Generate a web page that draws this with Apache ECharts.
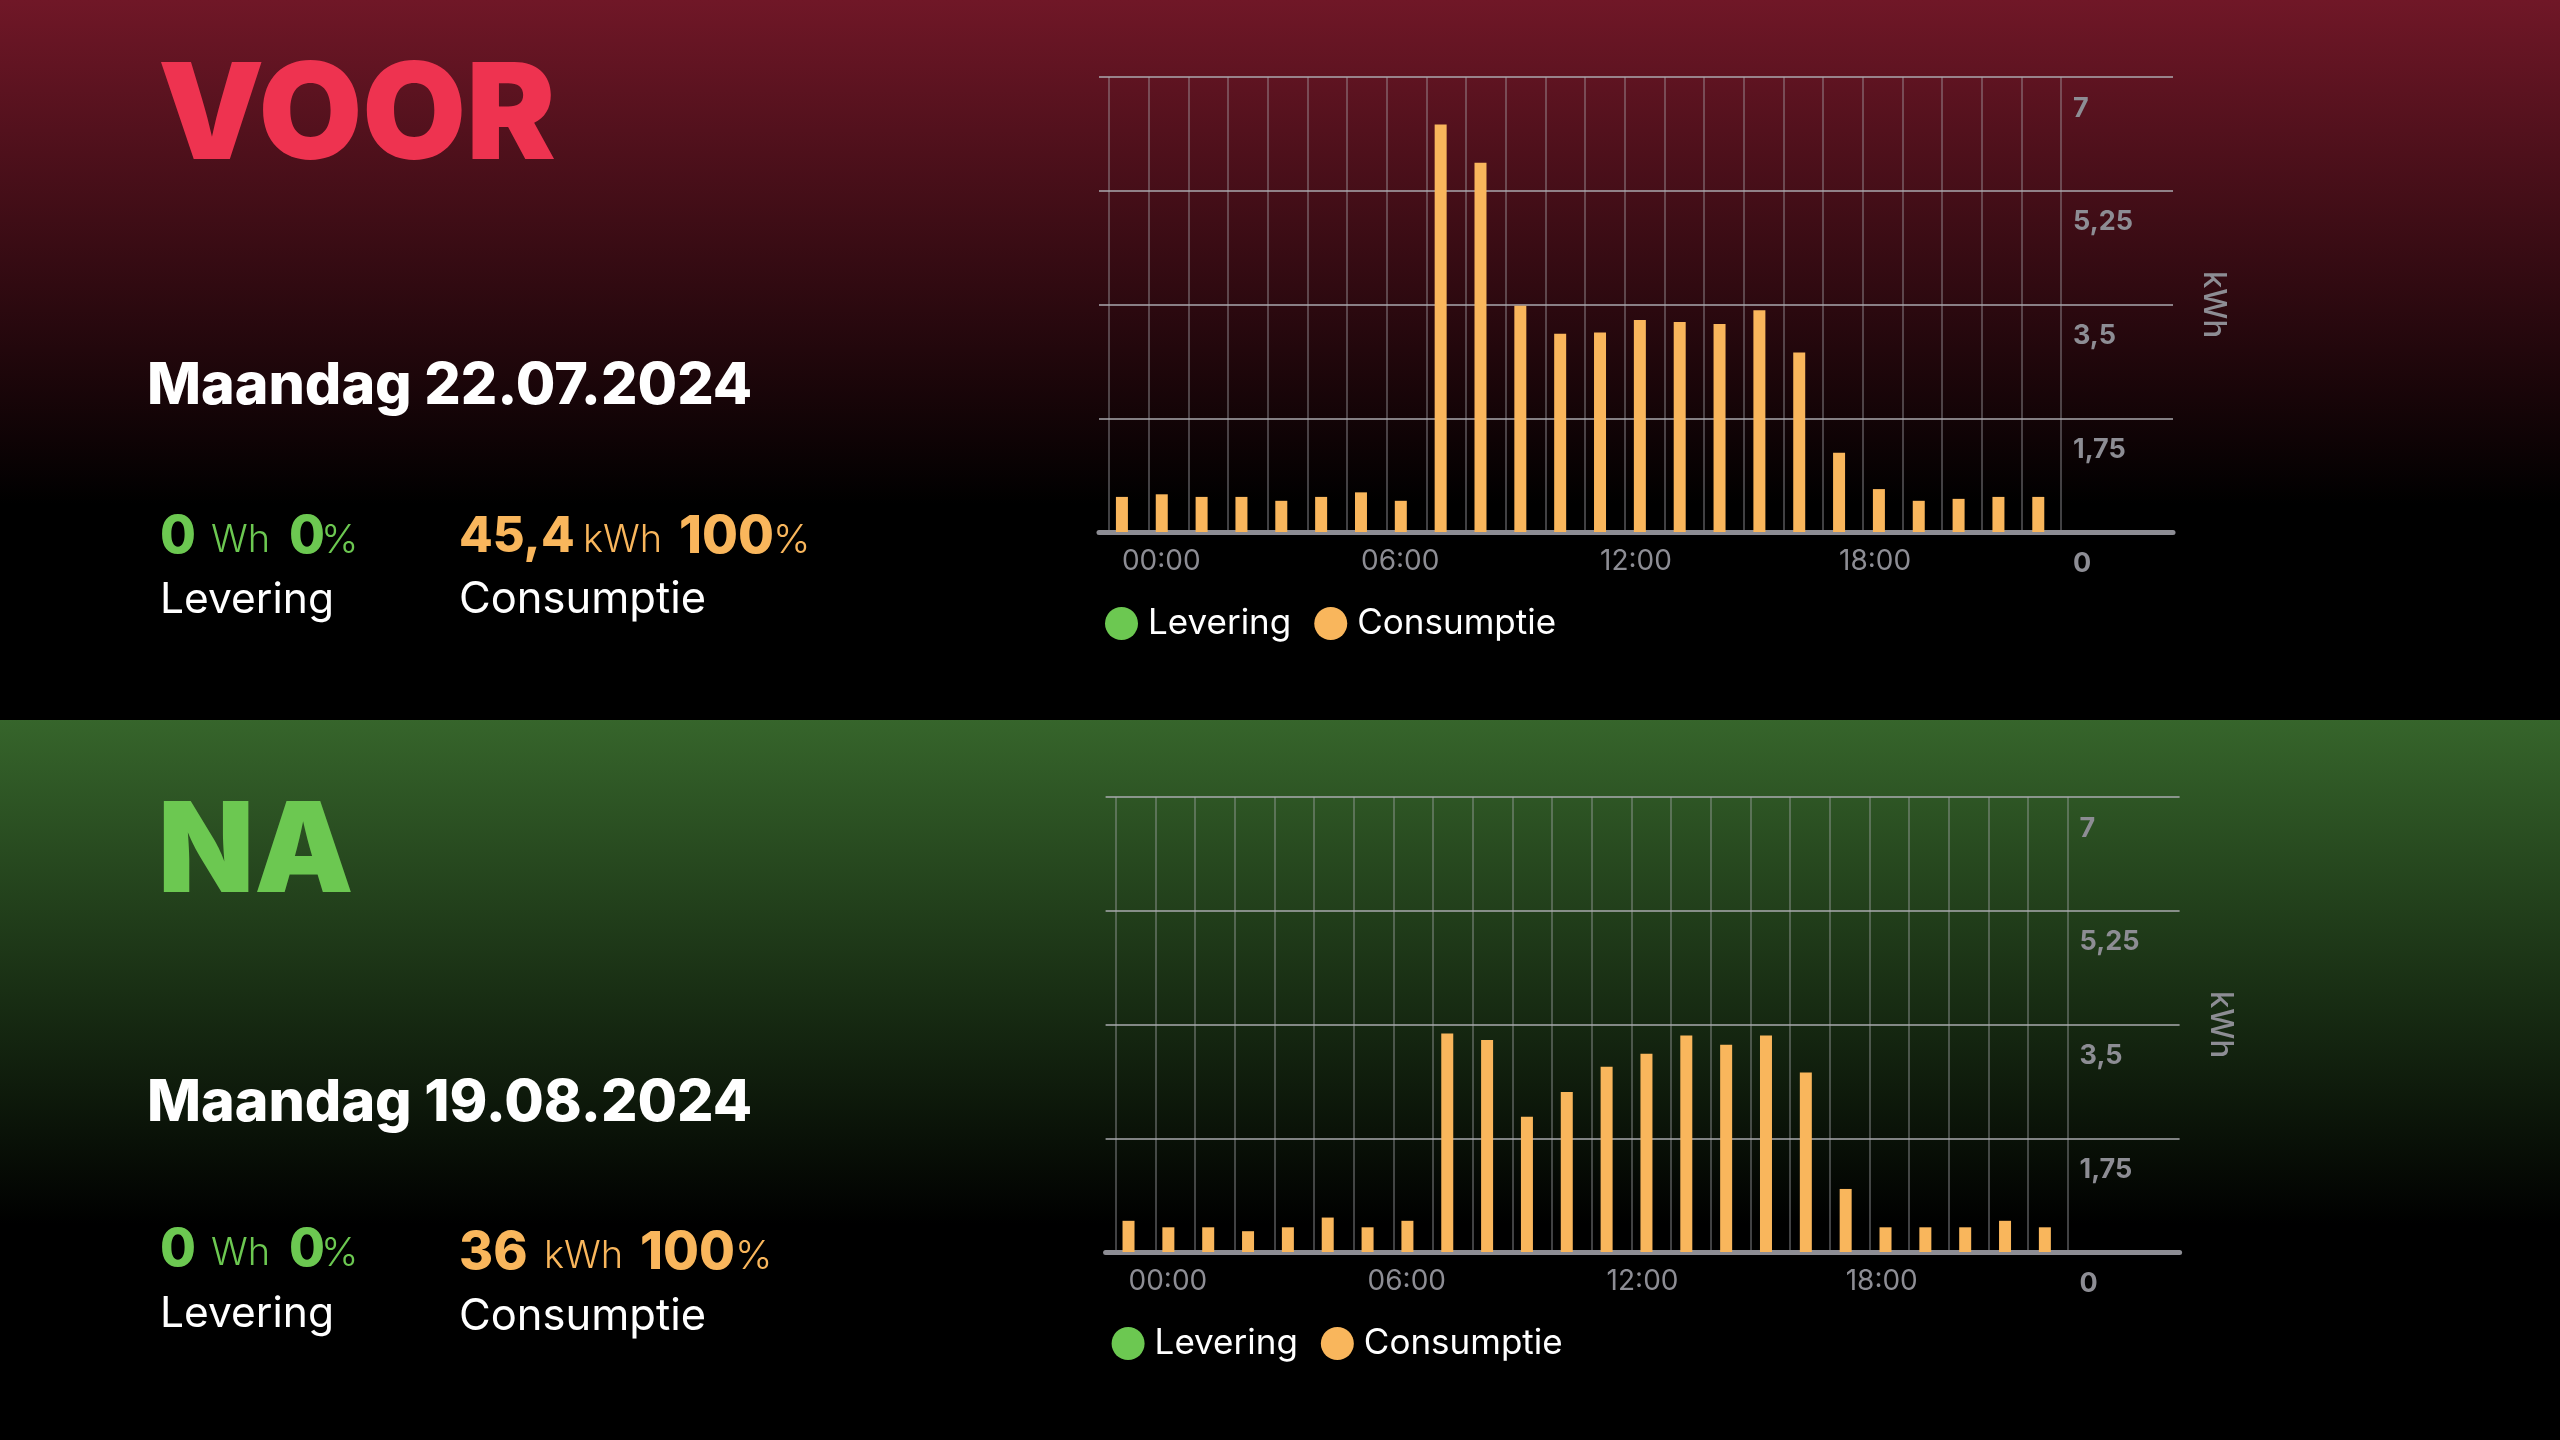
<!DOCTYPE html>
<html>
<head>
<meta charset="utf-8">
<title>Voor en na</title>
<script src="https://cdn.jsdelivr.net/npm/echarts@6/dist/echarts.min.js"></script>
<style>
	html, body { margin: 0; padding: 0; background: #000; }
	#bgTop, #bgBottom { position: absolute; left: 0; width: 2560px; height: 720px; }
	#bgTop { top: 0; background: linear-gradient(to bottom, #701727 0%, #000 70%); }
	#bgBottom { top: 720px; background: linear-gradient(to bottom, #36652b 0%, #000 70%); }
	#chart { position: absolute; left: 0; top: 0; width: 2560px; height: 1440px; }
</style>
</head>
<body>
<div id="bgTop"></div>
<div id="bgBottom"></div>
<div id="chart"></div>
<script>
var hours = ['00:00','01:00','02:00','03:00','04:00','05:00','06:00','07:00','08:00','09:00','10:00','11:00',
	'12:00','13:00','14:00','15:00','16:00','17:00','18:00','19:00','20:00','21:00','22:00','23:00'];
var yTickLabels = ['0', '1,75', '3,5', '5,25', '7'];
var seriesNames = ['Levering', 'Consumptie'];

var voorLevering = [0,0,0,0,0,0,0,0,0,0,0,0,0,0,0,0,0,0,0,0,0,0,0,0];
var voorConsumptie = [0.54,0.58,0.54,0.54,0.48,0.54,0.61,0.48,6.27,5.68,3.48,3.05,3.07,3.26,3.23,3.20,3.41,2.76,1.22,0.66,0.48,0.51,0.54,0.54];
var naLevering = [0,0,0,0,0,0,0,0,0,0,0,0,0,0,0,0,0,0,0,0,0,0,0,0];
var naConsumptie = [0.48,0.38,0.38,0.32,0.38,0.53,0.38,0.48,3.36,3.26,2.08,2.46,2.85,3.05,3.33,3.19,3.33,2.76,0.97,0.38,0.38,0.38,0.48,0.38];

var GREEN = '#6cc851', ORANGE = '#f9b65c', RED = '#ee3350', AXIS = '#8d8d94';
var FONT = 'Inter';

var option = {
	animation: false,
	backgroundColor: 'transparent',
	textStyle: { fontFamily: FONT },
	grid: [], xAxis: [], yAxis: [], series: [], legend: [], graphic: []
};

// one panel = 3 grids: wide one for the horizontal lines, one for the vertical lines, one for the bars
function addChart(dx, dy, levering, consumptie) {
	var g = option.grid.length;
	var top = 77 + dy, height = 455;

	option.grid.push({ left: 1099 + dx, top: top, width: 1074, height: height });
	option.grid.push({ left: 1109 + dx, top: top, width: 952, height: height });
	option.grid.push({ left: 1102 + dx, top: top, width: 956.2, height: height });

	// horizontal lines + thick base line
	option.xAxis.push({
		gridIndex: g, type: 'category', data: hours,
		axisLine: { lineStyle: { color: AXIS, width: 5 } },
		axisTick: { show: false }, axisLabel: { show: false }, splitLine: { show: false }
	});
	option.yAxis.push({
		gridIndex: g, type: 'value', min: 0, max: 7, interval: 1.75,
		axisLine: { show: false }, axisTick: { show: false }, axisLabel: { show: false },
		splitLine: { lineStyle: { color: 'rgba(175,175,180,0.72)', width: 2 } }
	});

	// vertical lines + y labels
	option.xAxis.push({
		gridIndex: g + 1, type: 'category', data: hours,
		axisLine: { show: false }, axisTick: { show: false }, axisLabel: { show: false },
		splitLine: { show: true, interval: 0, lineStyle: { color: 'rgba(170,170,175,0.38)', width: 2 } }
	});
	option.yAxis.push({
		gridIndex: g + 1, type: 'value', position: 'right', min: 0, max: 7, interval: 1.75,
		axisLine: { show: false }, axisTick: { show: false }, splitLine: { show: false },
		name: 'kWh', nameLocation: 'middle', nameRotate: -90, nameGap: 137,
		nameTextStyle: { color: AXIS, fontSize: 31, fontFamily: FONT, fontWeight: 500 },
		axisLabel: {
			color: AXIS, fontSize: 27, fontWeight: 700, fontFamily: FONT, align: 'left', margin: 12,
			verticalAlign: 'top', lineHeight: 63,
			formatter: function (v, i) { return yTickLabels[i]; }
		}
	});

	// bars + time labels
	option.xAxis.push({
		gridIndex: g + 2, type: 'category', data: hours,
		axisLine: { show: false }, axisTick: { show: false }, splitLine: { show: false },
		axisLabel: {
			interval: 5, color: AXIS, fontSize: 28, fontFamily: FONT, align: 'left', margin: 16
		}
	});
	option.yAxis.push({
		gridIndex: g + 2, type: 'value', min: 0, max: 7, interval: 1.75, show: false
	});

	option.series.push({
		name: seriesNames[0], type: 'bar', stack: 'p' + g, xAxisIndex: g + 2, yAxisIndex: g + 2,
		barWidth: 12, data: levering, itemStyle: { color: GREEN }
	});
	option.series.push({
		name: seriesNames[1], type: 'bar', stack: 'p' + g, xAxisIndex: g + 2, yAxisIndex: g + 2,
		barWidth: 12, data: consumptie, itemStyle: { color: ORANGE }
	});

	option.legend.push({
		data: seriesNames, left: 1100 + dx, top: 601 + dy, icon: 'circle',
		itemWidth: 33, itemHeight: 33, itemGap: 23,
		textStyle: { color: '#fff', fontSize: 35, fontFamily: FONT, padding: [0, 0, 0, 5] }
	});
}

function label(text, x, y, size, weight, color) {
	return {
		type: 'text', x: x, y: y,
		style: { text: text, fill: color, fontSize: size, fontWeight: weight, fontFamily: FONT, verticalAlign: 'middle' }
	};
}

function addTexts(t) {
	var g = option.graphic;
	g.push(label(t.head, 158, t.headY, t.headSize, 900, t.headColor));
	g.push(label(t.date, 147, t.dateY, 57.3, 800, '#fff'));
	g.push(label('0', 160, t.numY, 52, 800, GREEN));
	g.push(label('Wh', 211, t.numY + 4, 38, 300, GREEN));
	g.push(label('0', 289, t.numY, 52, 800, GREEN));
	g.push(label('%', 321, t.numY + 4, 40, 300, GREEN));
	g.push(label(t.num, 459, t.numY2, t.numSize, 800, ORANGE));
	g.push(label('kWh', t.xUnit, t.numY2 + 4, 38, 300, ORANGE));
	g.push(label('100', t.xPct, t.numY2, 52, 800, ORANGE));
	g.push(label('%', t.xPctSign, t.numY2 + 4, 40, 300, ORANGE));
	g.push(label(seriesNames[0], 160, t.capY, 42.5, 400, '#fff'));
	g.push(label(seriesNames[1], 459, t.capY2, 43.5, 400, '#fff'));
}

addChart(0, 0, voorLevering, voorConsumptie);
addChart(6.6, 720, naLevering, naConsumptie);
addTexts({ head: 'VOOR', headColor: RED, headY: 119, headSize: 134, date: 'Maandag 22.07.2024', dateY: 387,
	numY: 537, numY2: 537, capY: 600, capY2: 600, num: '45,4', numSize: 49, xUnit: 583, xPct: 679, xPctSign: 773 });
addTexts({ head: 'NA', headColor: GREEN, headY: 854, headSize: 125, date: 'Maandag 19.08.2024', dateY: 1104,
	numY: 1250, numY2: 1253, capY: 1314, capY2: 1317, num: '36', numSize: 52, xUnit: 544, xPct: 640, xPctSign: 735 });

var myChart = echarts.init(document.getElementById('chart'));
myChart.setOption(option);
</script>
</body>
</html>
